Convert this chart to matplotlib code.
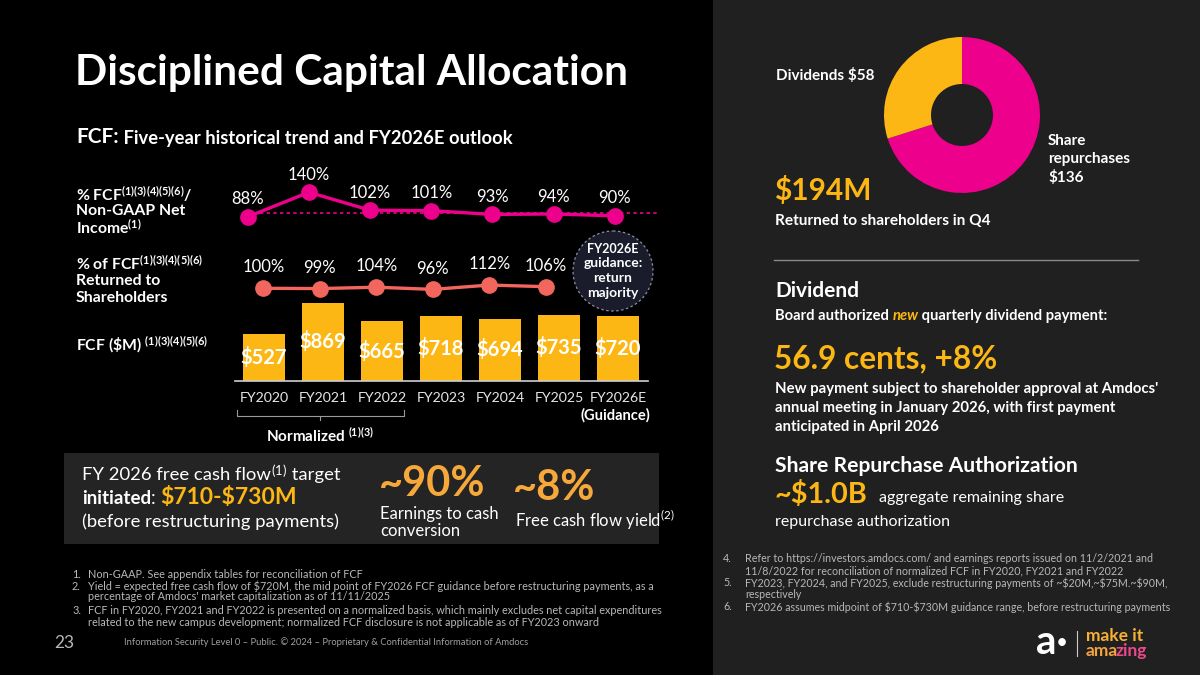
import numpy as np
import matplotlib
matplotlib.use('Agg')
import matplotlib.pyplot as plt
from matplotlib.patches import Rectangle, Circle

plt.rcParams['font.family'] = ['Lato', 'DejaVu Sans']
plt.rcParams['mathtext.default'] = 'regular'

# data
years = ['FY2020', 'FY2021', 'FY2022', 'FY2023', 'FY2024', 'FY2025', 'FY2026E']
fcf = [527, 869, 665, 718, 694, 735, 720]
fcf_to_ni = [88, 140, 102, 101, 93, 94, 90]
fcf_returned = [100, 99, 104, 96, 112, 106]
ni_ref_level = 96
q4_values = [136, 58]   # share repurchases, dividends ($M)

MAGENTA = '#EC008C'
SALMON = '#F2665E'
YELLOW = '#FDB714'
ORANGE = '#F6A83A'

W, H = 1200, 675
fig = plt.figure(figsize=(12, 6.75), dpi=100, facecolor='black')

# background layer in pixel coordinates
bg = fig.add_axes([0, 0, 1, 1])
bg.set_xlim(0, W)
bg.set_ylim(H, 0)
bg.axis('off')
bg.set_zorder(0)
bg.add_patch(Rectangle((713, 0), W - 713, H, color='#202020', lw=0))
bg.add_patch(Rectangle((64, 453), 595, 91, color='#242424', lw=0))


def put(x, y, s, size, color='white', weight='normal', ha='left', va='center', math=False, **kw):
    return bg.text(x, y, s, fontsize=size, color=color, fontweight=weight, ha=ha, va=va,
                   parse_math=math, **kw)


def after(prev, s, size, color='white', weight='normal', style='normal', gap=0, math=False):
    return bg.annotate(s, xy=(1, 0), xycoords=prev, xytext=(gap, 0), textcoords='offset points',
                       fontsize=size, color=color, fontweight=weight, fontstyle=style,
                       ha='left', va='bottom', parse_math=math, annotation_clip=False)


def px_axes(left, top, width, height):
    a = fig.add_axes([left / W, (H - top - height) / H, width / W, height / H])
    a.set_facecolor('none')
    a.set_zorder(2)
    return a


# ---- title
put(75, 73, 'Disciplined Capital Allocation', 30.5, weight='bold')
t = put(76, 137, 'FCF:', 15, weight='bold')
after(t, ' Five-year historical trend and FY2026E outlook', 13.2, weight='bold')

# ---- left row labels
lab = 11.3
put(76, 194, r'% FCF$^{(1)(3)(4)(5)(6)}$/', lab, weight='bold', math=True)
put(76, 211, 'Non-GAAP Net', lab, weight='bold')
put(76, 228, r'Income$^{(1)}$', lab, weight='bold', math=True)
put(76, 264, r'% of FCF$^{(1)(3)(4)(5)(6)}$', lab, weight='bold', math=True)
put(76, 281, 'Returned to', lab, weight='bold')
put(76, 298, 'Shareholders', lab, weight='bold')
put(76, 345, r'FCF (\$M) $^{(1)(3)(4)(5)(6)}$', lab, weight='bold', math=True)

# ---- FCF bars
ax = px_axes(234.5, 291, 413, 90)
x = np.arange(len(years))
ax.bar(x, fcf, width=0.7, color=YELLOW, zorder=2)
for xi, v in zip(x, fcf):
    ax.text(xi, v / 2, f'${v}', ha='center', va='center', color='white', fontsize=14.5,
            fontweight='bold', parse_math=False)
ax.set_xlim(-0.5, len(years) - 0.5)
ax.set_ylim(0, 1000)
for s in ['top', 'left', 'right']:
    ax.spines[s].set_visible(False)
ax.spines['bottom'].set_color('#cfcfcf')
ax.spines['bottom'].set_linewidth(1.2)
ax.set_yticks([])
ax.set_xticks(x)
ax.set_xticklabels(years, color='#e6e6e6', fontsize=10.2)
ax.tick_params(axis='x', length=0, pad=8)

put(615, 415, '(Guidance)', 10.5, weight='bold', ha='center')
bg.plot([237, 237, 404, 404], [410, 416, 416, 410], color='#9a9a9a', lw=0.8)
bg.plot([320, 320], [416, 420], color='#9a9a9a', lw=0.8)
put(320, 436, r'Normalized $^{(1)(3)}$', 11, weight='bold', ha='center', math=True)

# ---- FCF / non-GAAP net income line
ax_ni = px_axes(217.1, 180, 428.4, 50)
ax_ni.axis('off')
ax_ni.set_xlim(-0.5, 6.5)
ax_ni.set_ylim(60, 166)
ax_ni.axhline(ni_ref_level, xmin=0.1, xmax=1.03, color=MAGENTA, lw=1.2, ls=(0, (2, 2)),
              clip_on=False, zorder=1)
ax_ni.plot(np.arange(len(fcf_to_ni)), fcf_to_ni, color=MAGENTA, lw=2.4, marker='o', ms=11,
           clip_on=False, zorder=3)
for xi, v in enumerate(fcf_to_ni):
    ax_ni.annotate(f'{v}%', (xi, v), xytext=(0, 12.5), textcoords='offset points',
                   ha='center', va='center', color='white', fontsize=12, annotation_clip=False)

# ---- % of FCF returned line
ax_ret = px_axes(235.05, 280, 339, 20)
ax_ret.axis('off')
ax_ret.set_xlim(-0.5, 5.5)
ax_ret.set_ylim(56.7, 130.7)
ax_ret.plot(np.arange(len(fcf_returned)), fcf_returned, color=SALMON, lw=2.4, marker='o', ms=11,
            clip_on=False)
for xi, v in enumerate(fcf_returned):
    ax_ret.annotate(f'{v}%', (xi, v), xytext=(0, 15), textcoords='offset points',
                    ha='center', va='center', color='white', fontsize=12, annotation_clip=False)

# guidance bubble
bg.add_patch(Circle((613, 271), 40, facecolor='#1b1c2b', edgecolor='#8a8fa3', lw=0.9,
                    ls=(0, (2, 2)), zorder=3))
for yy, s in zip([249, 263, 278, 293], ['FY2026E', 'guidance:', 'return', 'majority']):
    put(613, yy, s, 9 if yy == 249 else 10, weight='bold', ha='center', zorder=4)

# ---- FY2026 target box
t = put(82, 475, 'FY 2026 free cash flow', 13.3)
t = after(t, r'$^{(1)}$', 13.3, math=True)
after(t, ' target', 13.3)
t = put(82, 499, 'initiated', 13.5, weight='bold')
t = after(t, ': ', 13.5)
after(t, '$710-$730M', 16.5, color=YELLOW, weight='bold')
put(82, 522, '(before restructuring payments)', 13.3)
put(379, 484, '~90%', 30, color=ORANGE, weight='bold')
put(380, 514, 'Earnings to cash', 12)
put(380, 531, 'conversion', 12)
put(513, 488, '~8%', 30, color=ORANGE, weight='bold')
put(515, 520, r'Free cash flow yield$^{(2)}$', 12, math=True)

# ---- left footnotes
fn = 7.85
fc = '#b8b8b8'
put(72, 574, '1.', fn, color=fc)
put(88, 574, 'Non-GAAP. See appendix tables for reconciliation of FCF', fn, color=fc)
put(72, 586, '2.', fn, color=fc)
put(88, 586, 'Yield = expected free cash flow of $720M, the mid point of FY2026 FCF guidance before '
             'restructuring payments, as a', fn, color=fc)
put(88, 597, "percentage of Amdocs' market capitalization as of 11/11/2025", fn, color=fc)
put(72, 610, '3.', fn, color=fc)
put(88, 610, 'FCF in FY2020, FY2021 and FY2022 is presented on a normalized basis, which mainly '
             'excludes net capital expenditures', fn, color=fc)
put(88, 622, 'related to the new campus development; normalized FCF disclosure is not applicable '
             'as of FY2023 onward', fn, color=fc)
put(54, 643, '23', 12.5, color=fc)
put(124, 642, 'Information Security Level 0 \u2013 Public. \u00a9 2024 \u2013 Proprietary & '
              'Confidential Information of Amdocs', 6.75, color='#a0a0a0')

# ---- right panel: Q4 donut
axp = px_axes(962 - 78, 115 - 78, 156, 156)
axp.pie(q4_values, colors=[MAGENTA, YELLOW], startangle=90, counterclock=False, radius=1,
        wedgeprops=dict(width=1 - 31 / 78, linewidth=0))
axp.set_xlim(-1, 1)
axp.set_ylim(-1, 1)
axp.set_aspect('equal')

put(776, 76, f'Dividends ${q4_values[1]}', 11, weight='bold')
put(1048, 141, 'Share', 11, weight='bold')
put(1048, 159, 'repurchases', 11, weight='bold')
put(1048, 177, f'${q4_values[0]}', 11, weight='bold')
put(774, 191, f'${sum(q4_values)}M', 21.5, color=YELLOW, weight='bold')
put(775, 221, 'Returned to shareholders in Q4', 11.1, weight='bold')
bg.plot([774, 1138], [260, 260], color='#8a8a8a', lw=1)

put(775, 291, 'Dividend', 15, weight='bold')
t = put(775, 316, 'Board authorized ', 10.6, weight='bold')
t = after(t, 'new', 10.6, color=YELLOW, weight='bold', style='italic')
after(t, ' quarterly dividend payment:', 10.6, weight='bold')
put(774, 359, '56.9 cents, +8%', 22.8, color=YELLOW, weight='bold')
put(775, 389, "New payment subject to shareholder approval at Amdocs'", 10.75, weight='bold')
put(775, 408, 'annual meeting in January 2026, with first payment', 10.75, weight='bold')
put(775, 427, 'anticipated in April 2026', 10.75, weight='bold')

put(775, 466, 'Share Repurchase Authorization', 15.2, weight='bold')
put(774, 494, '~$1.0B', 20.8, color=YELLOW, weight='bold')
put(879, 498, 'aggregate remaining share', 11.5)
put(775, 522, 'repurchase authorization', 11.5)

rf = [('4.', 'Refer to https://investors.amdocs.com/ and earnings reports issued on 11/2/2021 and', 559),
      ('', '11/8/2022 for reconciliation of normalized FCF in FY2020, FY2021 and FY2022', 571),
      ('5.', 'FY2023, FY2024, and FY2025, exclude restructuring payments of ~$20M,~$75M.~$90M,', 583),
      ('', 'respectively', 595),
      ('6.', 'FY2026 assumes midpoint of $710-$730M guidance range, before restructuring payments', 607)]
for num, s, yy in rf:
    if num:
        put(723, yy, num, 7.7, color=fc)
    put(745, yy, s, 7.7, color=fc)

# logo
put(1036, 643, 'a\u00b7', 29, weight='bold')
bg.plot([1077, 1077], [631, 656], color='#cccccc', lw=0.8)
put(1086, 636, 'make it', 12.5, color='#F7B233', weight='bold')
t = put(1086, 651, 'ama', 12.5, color='#F5A33C', weight='bold')
after(t, 'zing', 12.5, color='#EA4A8C', weight='bold', gap=-2)

fig.savefig('out.png', dpi=100, facecolor='black')
